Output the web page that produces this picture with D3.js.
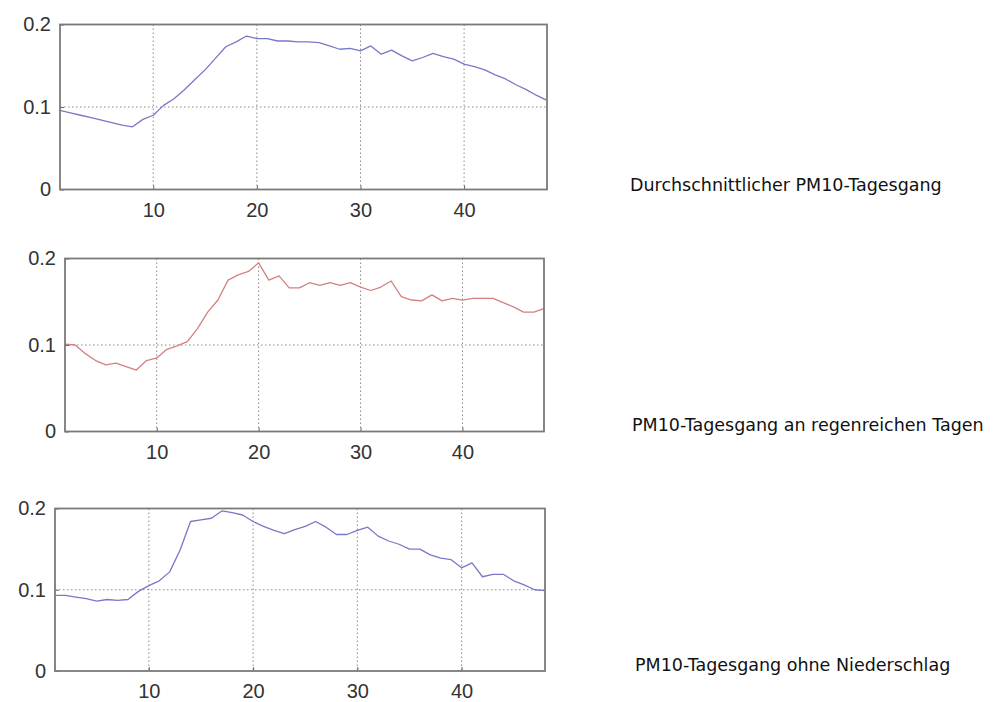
<!DOCTYPE html>
<html>
<head>
<meta charset="utf-8">
<script src="https://cdn.jsdelivr.net/npm/d3@7"></script>
<style>
  html, body { margin: 0; padding: 0; background: #fff; }
  svg { display: block; }
</style>
</head>
<body>
<svg id="chart" width="1006" height="702"></svg>
<script>
// Half-hour slots of the day (1..48)
const slots = d3.range(1, 49);

// Mean diurnal PM10 course
const pmAverage = [
  0.096, 0.093, 0.090, 0.087, 0.084, 0.081, 0.078, 0.076, 0.085, 0.090,
  0.102, 0.110, 0.121, 0.133, 0.145, 0.159, 0.173, 0.179, 0.186, 0.183,
  0.183, 0.180, 0.180, 0.179, 0.179, 0.178, 0.174, 0.170, 0.171, 0.168,
  0.174, 0.164, 0.169, 0.162, 0.156, 0.160, 0.165, 0.161, 0.158, 0.152,
  0.149, 0.145, 0.139, 0.134, 0.127, 0.121, 0.114, 0.108
];

// Diurnal PM10 course on rainy days
const pmRainy = [
  0.101, 0.100, 0.090, 0.082, 0.077, 0.079, 0.075, 0.071, 0.082, 0.085,
  0.095, 0.099, 0.104, 0.119, 0.138, 0.152, 0.175, 0.181, 0.185, 0.195,
  0.175, 0.180, 0.166, 0.166, 0.172, 0.169, 0.172, 0.169, 0.172, 0.167,
  0.163, 0.167, 0.174, 0.156, 0.152, 0.151, 0.158, 0.151, 0.154, 0.152,
  0.154, 0.154, 0.154, 0.149, 0.144, 0.138, 0.138, 0.142
];

// Diurnal PM10 course on days without precipitation
const pmDry = [
  0.093, 0.093, 0.091, 0.089, 0.086, 0.088, 0.087, 0.088, 0.098, 0.105,
  0.111, 0.122, 0.149, 0.184, 0.186, 0.188, 0.197, 0.195, 0.192, 0.184,
  0.178, 0.173, 0.169, 0.174, 0.178, 0.184, 0.177, 0.168, 0.168, 0.173,
  0.177, 0.166, 0.160, 0.156, 0.150, 0.150, 0.143, 0.139, 0.137, 0.127,
  0.133, 0.116, 0.119, 0.119, 0.111, 0.106, 0.100, 0.099
];

const xTicks = [10, 20, 30, 40];
const yTicks = [0, 0.1, 0.2];
const titles = [
  "Durchschnittlicher PM10-Tagesgang",
  "PM10-Tagesgang an regenreichen Tagen",
  "PM10-Tagesgang ohne Niederschlag"
];

const series = [pmAverage, pmRainy, pmDry];
const colors = ["#7878c8", "#d48080", "#7878c8"];

// Plot boxes of the three stacked axes
const boxes = [
  { left: 60, right: 547, top: 24.5, bottom: 189.5, titleX: 630, titleY: 191 },
  { left: 65, right: 544, top: 258.5, bottom: 431.5, titleX: 632, titleY: 431 },
  { left: 55, right: 545, top: 508.5, bottom: 671, titleX: 635, titleY: 671 }
];

const svg = d3.select("#chart");

series.forEach((values, i) => {
  const b = boxes[i];
  const x = d3.scaleLinear().domain([1, 48]).range([b.left, b.right]);
  const y = d3.scaleLinear().domain([0, 0.2]).range([b.bottom, b.top]);
  const g = svg.append("g");

  // dotted grid
  g.append("g")
    .selectAll("line")
    .data(xTicks)
    .join("line")
    .attr("x1", d => x(d)).attr("x2", d => x(d))
    .attr("y1", b.top).attr("y2", b.bottom)
    .attr("stroke", "#8a8a8a")
    .attr("stroke-width", 1)
    .attr("stroke-dasharray", "1.5,2.5");
  g.append("g")
    .selectAll("line")
    .data(yTicks.filter(d => d > 0 && d < 0.2))
    .join("line")
    .attr("x1", b.left).attr("x2", b.right)
    .attr("y1", d => y(d)).attr("y2", d => y(d))
    .attr("stroke", "#8a8a8a")
    .attr("stroke-width", 1)
    .attr("stroke-dasharray", "1.5,2.5");

  // axes with inward ticks
  const xAxis = d3.axisBottom(x).tickValues(xTicks).tickSize(-4).tickPadding(13);
  const yAxis = d3.axisLeft(y).tickValues(yTicks).tickSize(-4).tickPadding(9)
    .tickFormat(d => d === 0 ? "0" : d3.format(".1f")(d));

  const gx = g.append("g")
    .attr("transform", `translate(0,${b.bottom})`)
    .call(xAxis);
  const gy = g.append("g")
    .attr("transform", `translate(${b.left},0)`)
    .call(yAxis);
  [gx, gy].forEach(a => {
    a.select(".domain").remove();
    a.selectAll(".tick line").attr("stroke", "#666").attr("stroke-width", 1);
    a.selectAll(".tick text")
      .attr("fill", "#333")
      .style("font-family", "'Liberation Sans', Arial, sans-serif")
      .style("font-size", "20px");
  });

  // data line
  const line = d3.line()
    .x((d, k) => x(slots[k]))
    .y(d => y(d));
  g.append("path")
    .datum(values)
    .attr("d", line)
    .attr("fill", "none")
    .attr("stroke", colors[i])
    .attr("stroke-width", 1.3)
    .attr("stroke-linejoin", "round");

  // frame
  g.append("rect")
    .attr("x", b.left).attr("y", b.top)
    .attr("width", b.right - b.left)
    .attr("height", b.bottom - b.top)
    .attr("fill", "none")
    .attr("stroke", "#7a7a7a")
    .attr("stroke-width", 1.8);

  // caption on the right
  svg.append("text")
    .attr("x", b.titleX).attr("y", b.titleY)
    .attr("fill", "#111")
    .style("font-family", "'DejaVu Sans', sans-serif")
    .style("font-size", "17.5px")
    .text(titles[i]);
});
</script>
</body>
</html>
